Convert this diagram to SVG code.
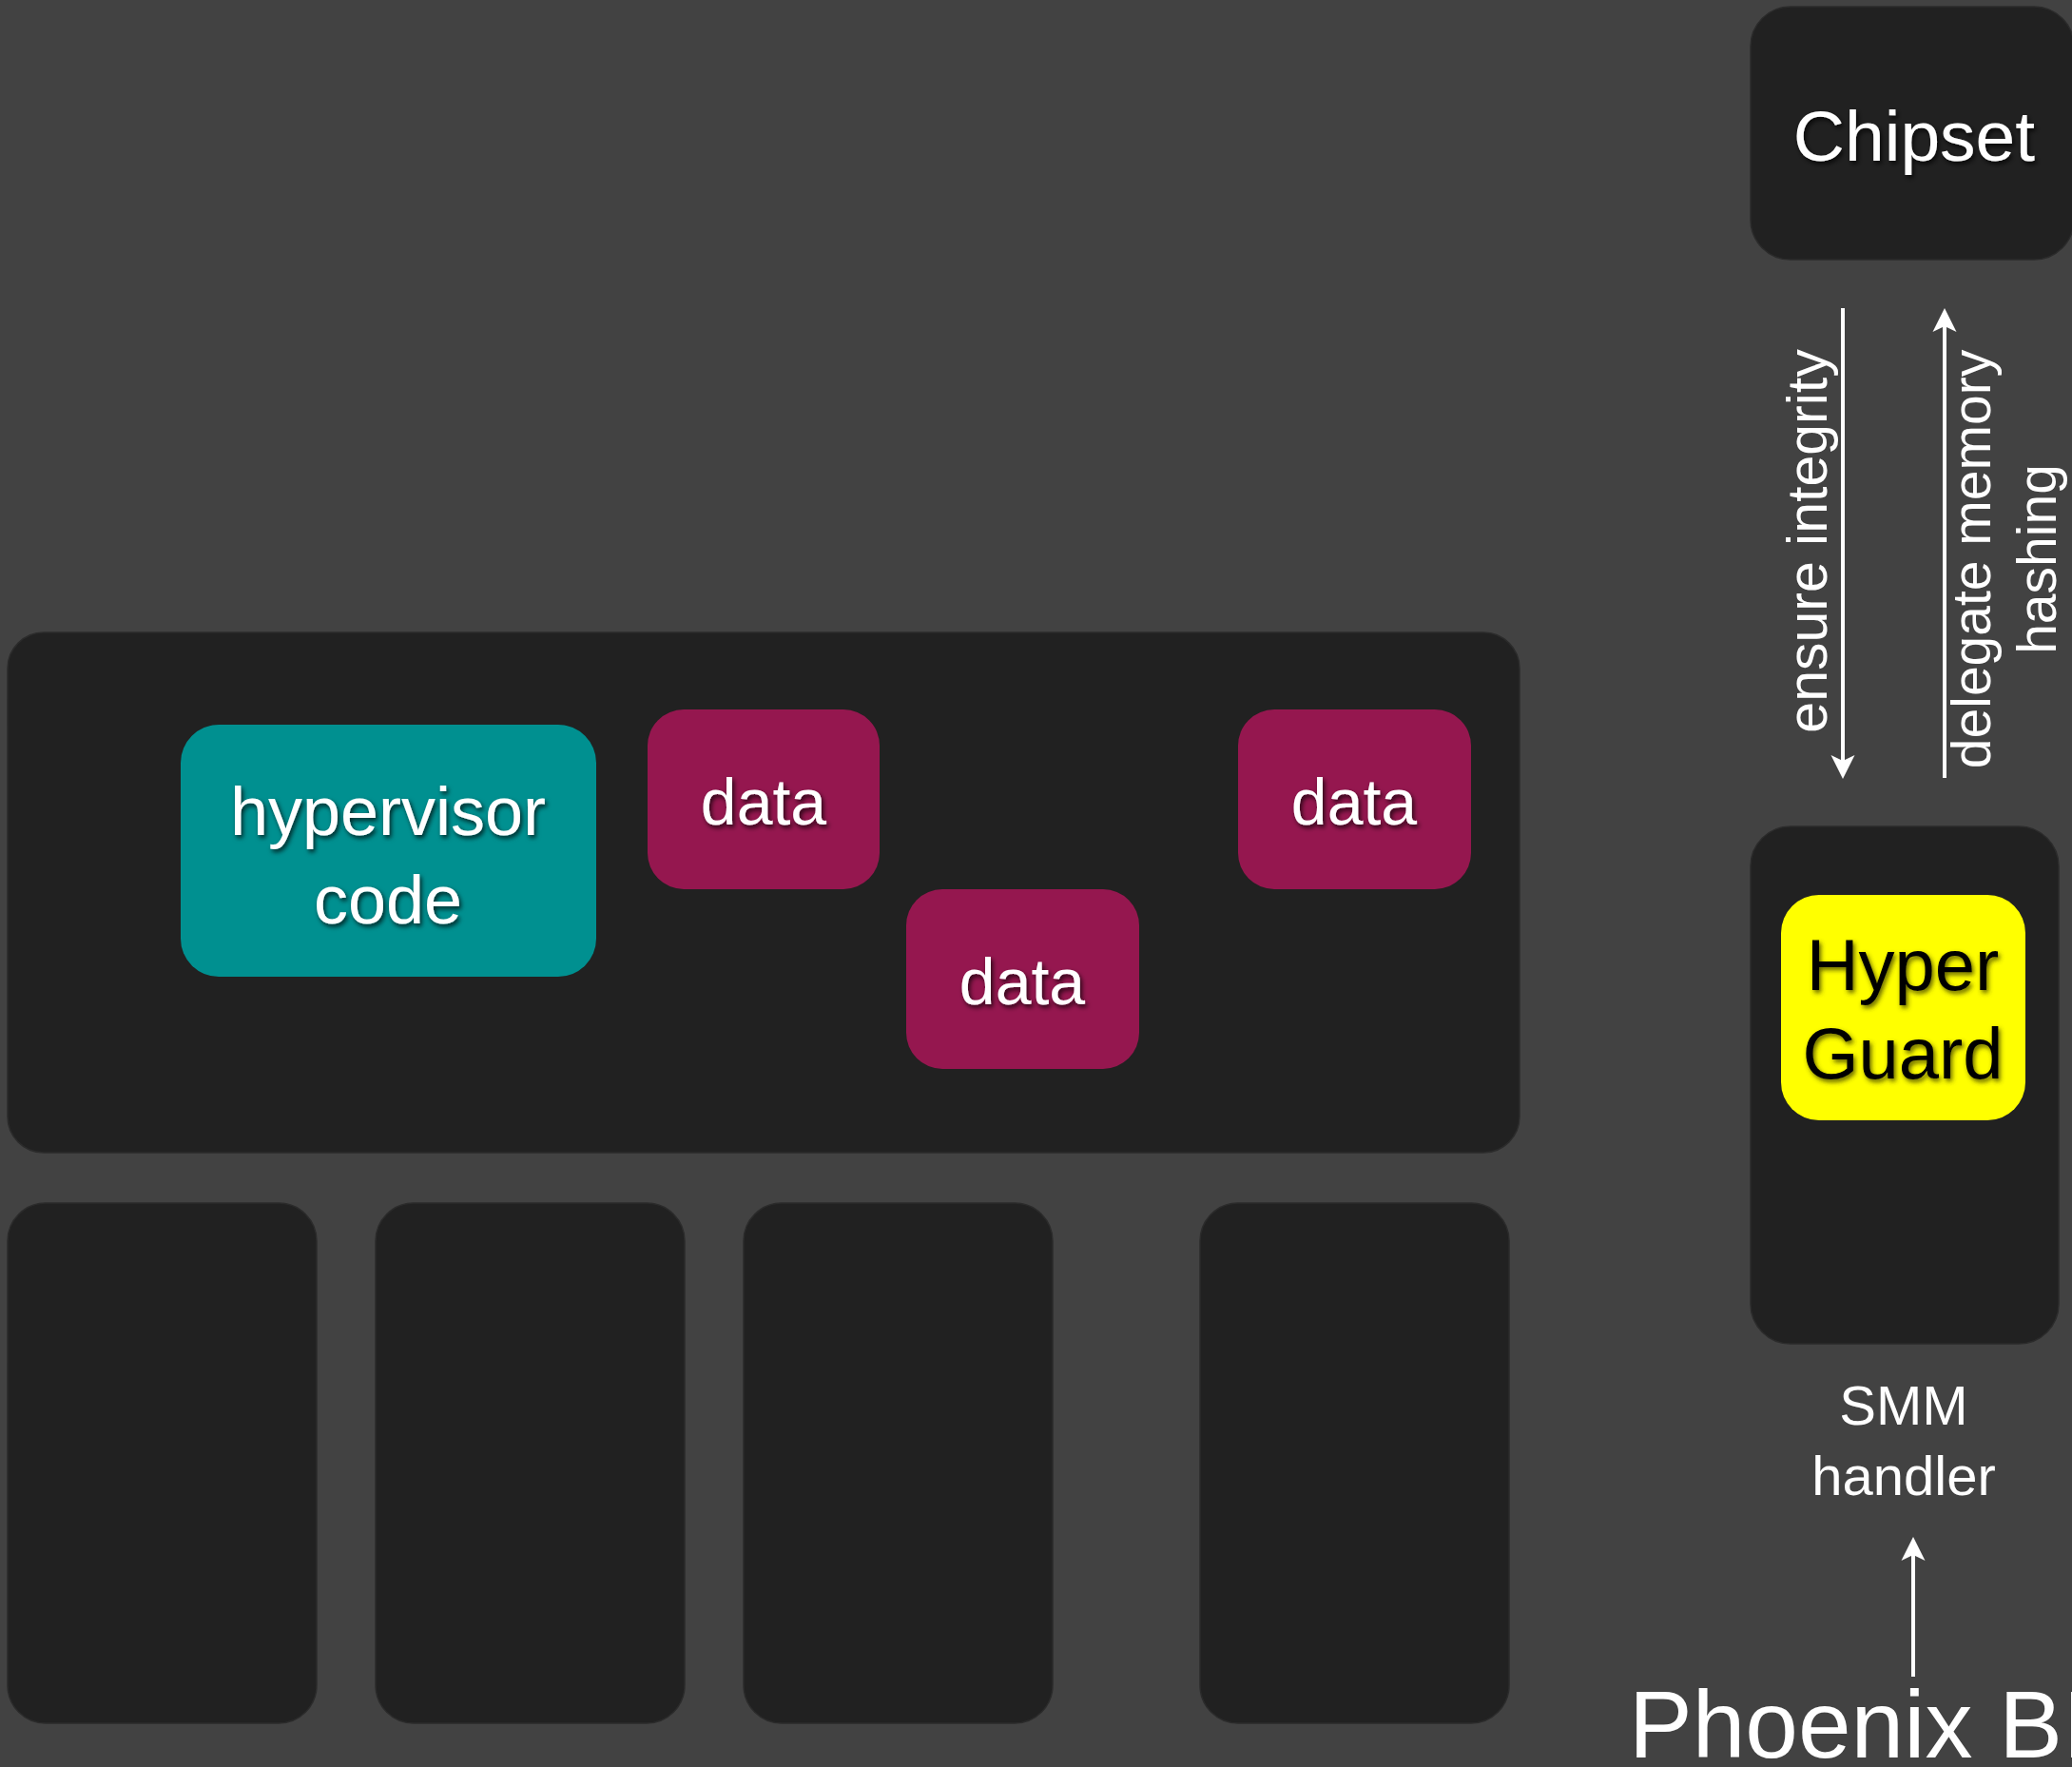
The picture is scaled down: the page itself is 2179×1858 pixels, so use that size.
<svg xmlns="http://www.w3.org/2000/svg" width="2179" height="1858" viewBox="0 0 2179 1858">
  <defs>
    <style>
      .box { fill: #212121; stroke: #2b2b2b; stroke-width: 1.5; }
      .code { fill: #009090; }
      .data { fill: #95174f; }
      .guard { fill: #ffff00; }
      .lbl { font-family: "Liberation Sans", Arial, sans-serif; fill: #ffffff; text-anchor: middle; }
      .dark { fill: #000000; }
      .conn { stroke: #ffffff; stroke-width: 4; fill: none; }
    </style>
    <filter id="shadow" x="-20%" y="-20%" width="140%" height="160%">
      <feDropShadow dx="2" dy="3" stdDeviation="2.5" flood-color="#000000" flood-opacity="0.75"/>
    </filter>
    <filter id="shadowDark" x="-20%" y="-20%" width="140%" height="160%">
      <feDropShadow dx="2" dy="3" stdDeviation="2.5" flood-color="#3a3a00" flood-opacity="0.8"/>
    </filter>
    <marker id="head" markerUnits="userSpaceOnUse" markerWidth="30" markerHeight="30" viewBox="-8 -14 30 28" refX="0" refY="0" orient="auto">
      <path d="M19,0 L-6,-12.5 L0,0 L-6,12.5 Z" fill="#ffffff"/>
    </marker>
  </defs>

  <!-- background -->
  <rect x="0" y="0" width="2179" height="1858" fill="#424242"/>

  <!-- memory region holding hypervisor code and data -->
  <g id="memory">
    <rect class="box" x="8" y="665" width="1590" height="547" rx="38"/>
  </g>
  <g id="hypervisor-code">
    <rect class="code" x="190" y="762" width="437" height="265" rx="40"/>
    <text class="lbl" font-size="72" filter="url(#shadow)"><tspan x="408" y="878">hypervisor</tspan><tspan x="408" y="971">code</tspan></text>
  </g>
  <g id="data-1">
    <rect class="data" x="681" y="746" width="244" height="189" rx="38"/>
    <text class="lbl" x="803" y="867" font-size="68" filter="url(#shadow)">data</text>
  </g>
  <g id="data-2">
    <rect class="data" x="953" y="935" width="245" height="189" rx="38"/>
    <text class="lbl" x="1075" y="1056" font-size="68" filter="url(#shadow)">data</text>
  </g>
  <g id="data-3">
    <rect class="data" x="1302" y="746" width="245" height="189" rx="38"/>
    <text class="lbl" x="1424" y="867" font-size="68" filter="url(#shadow)">data</text>
  </g>

  <!-- lower blocks -->
  <g id="block-1"><rect class="box" x="8" y="1265" width="325" height="547" rx="40"/></g>
  <g id="block-2"><rect class="box" x="395" y="1265" width="325" height="547" rx="40"/></g>
  <g id="block-3"><rect class="box" x="782" y="1265" width="325" height="547" rx="40"/></g>
  <g id="block-4"><rect class="box" x="1262" y="1265" width="325" height="547" rx="40"/></g>

  <!-- chipset -->
  <g id="chipset">
    <rect class="box" x="1841" y="7" width="340" height="266" rx="42"/>
    <text class="lbl" x="2013" y="169" font-size="75" filter="url(#shadow)">Chipset</text>
  </g>

  <!-- SMM handler with HyperGuard -->
  <g id="smm-handler">
    <rect class="box" x="1841" y="869" width="324" height="544" rx="42"/>
    <text class="lbl" font-size="58"><tspan x="2002" y="1498">SMM</tspan><tspan x="2002" y="1572">handler</tspan></text>
  </g>
  <g id="hyperguard">
    <rect class="guard" x="1873" y="941" width="257" height="237" rx="40"/>
    <text class="lbl dark" font-size="76" filter="url(#shadowDark)"><tspan x="2001" y="1041">Hyper</tspan><tspan x="2001" y="1134">Guard</tspan></text>
  </g>

  <!-- firmware (label runs past the right edge) -->
  <g id="phoenix-bios">
    <text class="lbl" x="1713" y="1848" font-size="100" style="text-anchor:start">Phoenix BIOS</text>
  </g>

  <!-- connectors -->
  <g id="connectors">
    <line class="conn" x1="1938" y1="324" x2="1938" y2="800" marker-end="url(#head)"/>
    <line class="conn" x1="2045" y1="818" x2="2045" y2="343" marker-end="url(#head)"/>
    <line class="conn" x1="2012" y1="1763" x2="2012" y2="1635" marker-end="url(#head)"/>
    <text class="lbl" font-size="59" transform="translate(1921,569) rotate(-90)" x="0" y="0">ensure integrity</text>
    <text class="lbl" font-size="57" transform="translate(2093,588) rotate(-90)"><tspan x="0" y="0">delegate memory</tspan><tspan x="0" y="69">hashing</tspan></text>
  </g>
</svg>
